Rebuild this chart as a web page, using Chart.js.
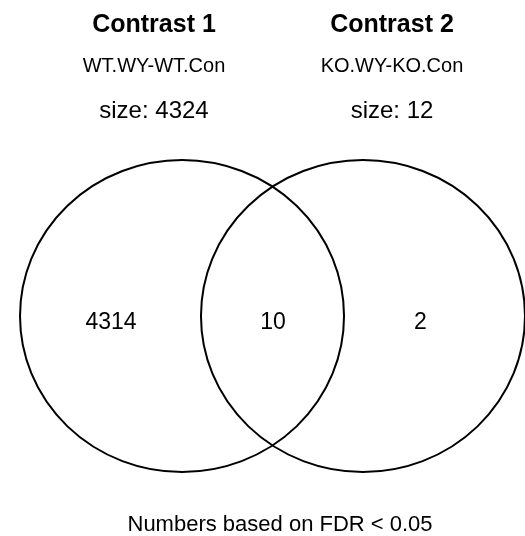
<!DOCTYPE html>
<html>
<head>
<meta charset="utf-8">
<script src="https://cdn.jsdelivr.net/npm/chart.js@4"></script>
<style>
html,body{margin:0;padding:0;background:#fff;}
canvas{display:block;}
</style>
</head>
<body>
<canvas id="c" width="525" height="536"></canvas>
<script>
// ---- data ----
const setNames = ['Contrast 1', 'Contrast 2'];
const contrastNames = ['WT.WY-WT.Con', 'KO.WY-KO.Con'];
const setSizes = [4324, 12];
const regionCounts = [4314, 10, 2]; // only-1, both, only-2
const footnote = 'Numbers based on FDR < 0.05';
// circle geometry in data units (radius = 1)
const circleCenterX = [0, 1.117];
const circleCenterY = [0, 0];
const circleRadius = [1, 1];
// label anchor positions in data units
const regionLabelX = [-0.438, 0.562, 1.471];
const headerX = [-0.173, 1.296];
const footnoteX = 0.605;

const FONT = '"Liberation Sans", Arial, Helvetica, sans-serif';

const vennPlugin = {
  id: 'venn',
  afterDatasetsDraw(chart) {
    const {ctx, scales: {x, y}} = chart;
    ctx.save();
    // circles
    ctx.strokeStyle = '#000';
    ctx.lineWidth = 2;
    for (let i = 0; i < circleCenterX.length; i++) {
      const cx = x.getPixelForValue(circleCenterX[i]);
      const cy = y.getPixelForValue(circleCenterY[i]);
      const rx = Math.abs(x.getPixelForValue(circleCenterX[i] + circleRadius[i]) - cx);
      const ry = Math.abs(y.getPixelForValue(circleCenterY[i] + circleRadius[i]) - cy);
      ctx.beginPath();
      ctx.ellipse(cx, cy, rx, ry, 0, 0, Math.PI * 2);
      ctx.stroke();
    }
    ctx.fillStyle = '#000';
    ctx.textAlign = 'center';
    ctx.textBaseline = 'alphabetic';
    // region counts
    ctx.font = '23px ' + FONT;
    for (let i = 0; i < regionCounts.length; i++) {
      ctx.fillText(String(regionCounts[i]), x.getPixelForValue(regionLabelX[i]), y.getPixelForValue(-0.083));
    }
    // headers
    for (let i = 0; i < setNames.length; i++) {
      const hx = x.getPixelForValue(headerX[i]);
      ctx.font = 'bold 25px ' + FONT;
      ctx.fillText(setNames[i], hx, 32);
      ctx.font = '20px ' + FONT;
      ctx.fillText(contrastNames[i], hx, 72);
      ctx.font = '24px ' + FONT;
      ctx.fillText('size: ' + setSizes[i], hx, 118);
    }
    // footnote
    ctx.font = '22px ' + FONT;
    ctx.fillText(footnote, x.getPixelForValue(footnoteX), 531);
    ctx.restore();
  }
};

new Chart(document.getElementById('c'), {
  type: 'scatter',
  data: {
    datasets: [{
      data: circleCenterX.map((v, i) => ({x: v, y: circleCenterY[i]})),
      pointRadius: 0,
      pointHoverRadius: 0
    }]
  },
  options: {
    responsive: false,
    animation: false,
    layout: {padding: 0},
    events: [],
    plugins: {legend: {display: false}, tooltip: {enabled: false}},
    scales: {
      x: {type: 'linear', display: false, min: -1.1235, max: 2.117},
      y: {type: 'linear', display: false, min: -1.410, max: 2.026}
    }
  },
  plugins: [vennPlugin]
});
</script>
</body>
</html>
